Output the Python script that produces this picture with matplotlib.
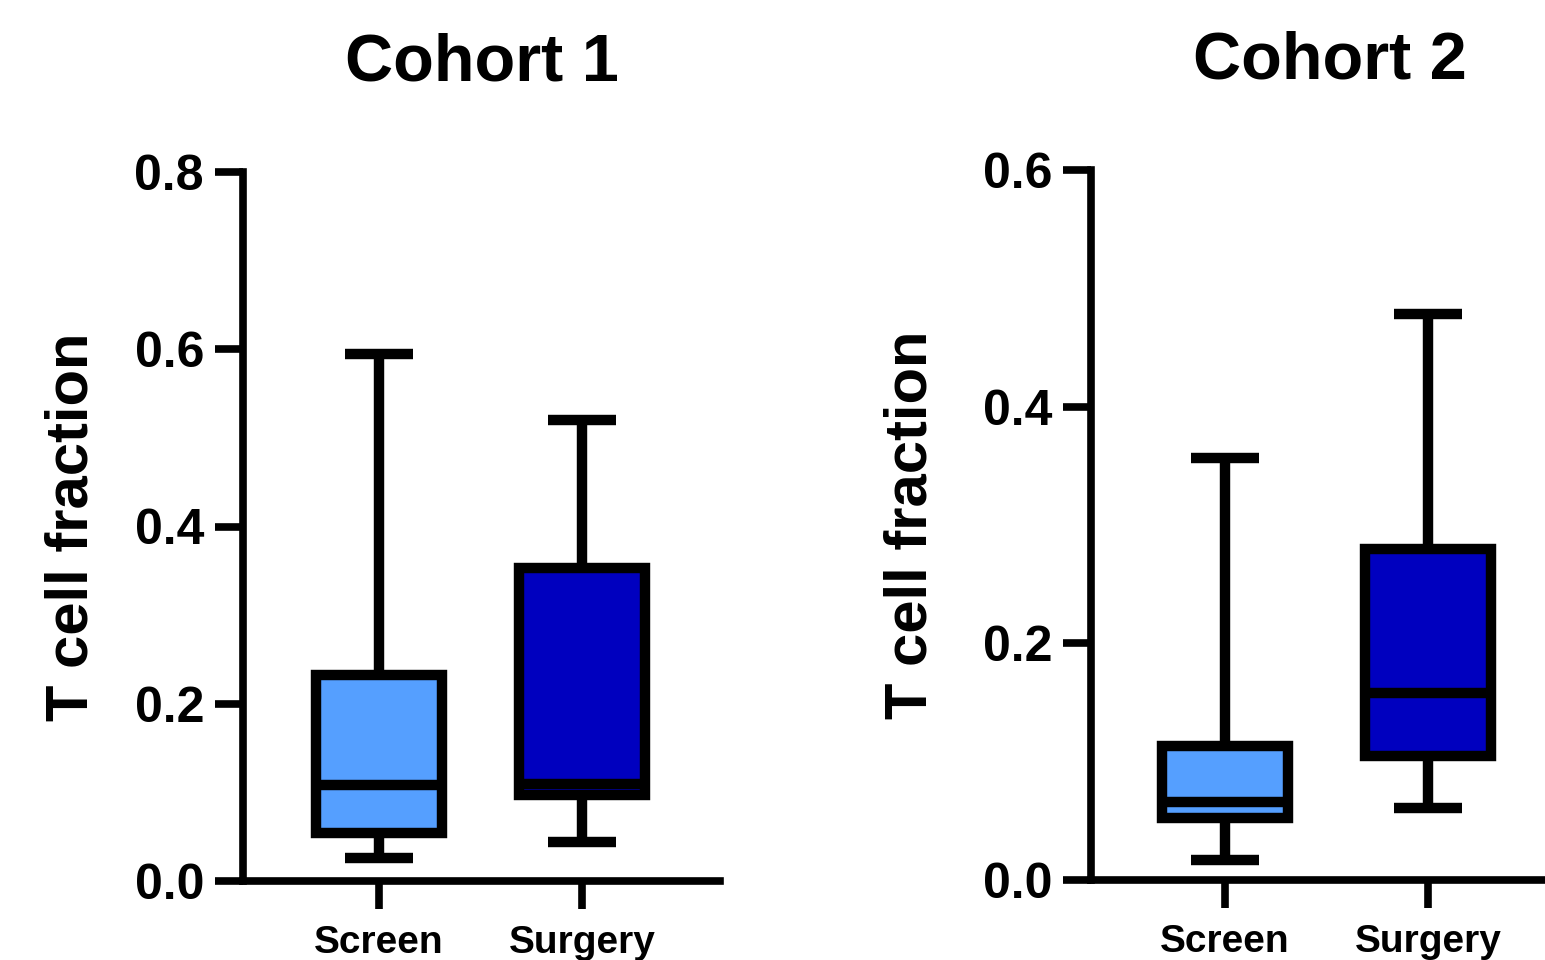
import matplotlib
matplotlib.use("Agg")
import matplotlib.pyplot as plt

plt.rcParams['font.family'] = ['Liberation Sans', 'DejaVu Sans']
plt.rcParams['font.weight'] = 'bold'

categories = ["Screen", "Surgery"]
colors = ["#559FFF", "#0000BF"]

# Cohort 1 box stats: whislo, q1, med, q3, whishi
c1_whislo = [0.026, 0.044]
c1_q1 = [0.054, 0.097]
c1_med = [0.108, 0.109]
c1_q3 = [0.233, 0.353]
c1_whishi = [0.595, 0.520]

# Cohort 2
c2_whislo = [0.017, 0.061]
c2_q1 = [0.052, 0.105]
c2_med = [0.066, 0.158]
c2_q3 = [0.113, 0.280]
c2_whishi = [0.357, 0.478]

titles = ["Cohort 1", "Cohort 2"]
ylabel = "T cell fraction"
c1_yticks = [0.0, 0.2, 0.4, 0.6, 0.8]
c2_yticks = [0.0, 0.2, 0.4, 0.6]

W, H = 1545, 960
fig = plt.figure(figsize=(W / 100, H / 100), dpi=100)

def px_axes(left, right, bottom, top):
    return fig.add_axes([left / W, 1 - bottom / H, (right - left) / W, (bottom - top) / H])

ax1 = px_axes(243, 720, 881, 172)
ax2 = px_axes(1091, 1568, 880, 170)

LW = 7.5
SP = 5.5

def draw(ax, wlo, q1, med, q3, whi, yticks, title, ylab_x, xlim):
    stats = []
    for i in range(len(categories)):
        stats.append(dict(whislo=wlo[i], q1=q1[i], med=med[i], q3=q3[i],
                          whishi=whi[i], label=categories[i]))
    bp = ax.bxp(stats, positions=[0, 1], widths=0.62, capwidths=0.335,
                patch_artist=True, showfliers=False,
                boxprops=dict(linewidth=LW, edgecolor='black'),
                medianprops=dict(linewidth=LW, color='black', solid_capstyle='butt'),
                whiskerprops=dict(linewidth=LW, color='black', solid_capstyle='butt'),
                capprops=dict(linewidth=LW, color='black', solid_capstyle='butt'))
    for patch, c in zip(bp['boxes'], colors):
        patch.set_facecolor(c)
        patch.set_joinstyle('miter')
    ax.set_xlim(*xlim)
    ax.set_ylim(0, yticks[-1])
    ax.set_yticks(yticks)
    ax.set_yticklabels([f"{t:.1f}" for t in yticks])
    ax.set_xticks([0, 1])
    ax.set_xticklabels(categories)
    for s in ['top', 'right']:
        ax.spines[s].set_visible(False)
    for s in ['left', 'bottom']:
        ax.spines[s].set_linewidth(SP)
        ax.spines[s].set_capstyle('projecting')
    ax.tick_params(axis='y', length=20, width=SP, labelsize=36, pad=8)
    ax.tick_params(axis='x', length=20, width=SP, labelsize=28, pad=12)
    for lab in ax.get_xticklabels() + ax.get_yticklabels():
        lab.set_fontweight('bold')
    ax.set_ylabel(ylabel, fontsize=43, fontweight='bold')
    ax.yaxis.set_label_coords(ylab_x, 0.5)
    ax.set_title(title, fontsize=48, fontweight='bold', pad=66)

draw(ax1, c1_whislo, c1_q1, c1_med, c1_q3, c1_whishi, c1_yticks, titles[0], -0.30, (-0.67, 1.68))
draw(ax2, c2_whislo, c2_q1, c2_med, c2_q3, c2_whishi, c2_yticks, titles[1], -0.32, (-0.66, 1.69))

fig.savefig("out.png", dpi=100)
